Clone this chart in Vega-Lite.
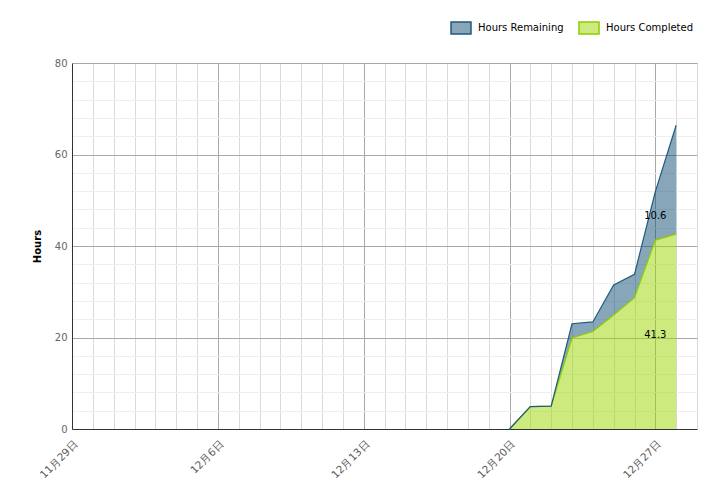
{
  "$schema": "https://vega.github.io/schema/vega-lite/v6.json",
  "autosize": {"type": "none"},
  "width": 625,
  "height": 366,
  "padding": {"left": 72, "top": 63, "right": 23, "bottom": 75},
  "config": {"font": "DejaVu Sans", "view": {"stroke": null}},
  "data": {"values": [
    {"date": "2023-12-20", "series": "Hours Completed", "hours": 0},
    {"date": "2023-12-21", "series": "Hours Completed", "hours": 4.9},
    {"date": "2023-12-22", "series": "Hours Completed", "hours": 5.0},
    {"date": "2023-12-23", "series": "Hours Completed", "hours": 19.9},
    {"date": "2023-12-24", "series": "Hours Completed", "hours": 21.3},
    {"date": "2023-12-25", "series": "Hours Completed", "hours": 24.9},
    {"date": "2023-12-26", "series": "Hours Completed", "hours": 28.7},
    {"date": "2023-12-27", "series": "Hours Completed", "hours": 41.3},
    {"date": "2023-12-28", "series": "Hours Completed", "hours": 42.6},
    {"date": "2023-12-20", "series": "Hours Remaining", "hours": 0},
    {"date": "2023-12-21", "series": "Hours Remaining", "hours": 0},
    {"date": "2023-12-22", "series": "Hours Remaining", "hours": 0},
    {"date": "2023-12-23", "series": "Hours Remaining", "hours": 3.1},
    {"date": "2023-12-24", "series": "Hours Remaining", "hours": 2.1},
    {"date": "2023-12-25", "series": "Hours Remaining", "hours": 6.6},
    {"date": "2023-12-26", "series": "Hours Remaining", "hours": 5.1},
    {"date": "2023-12-27", "series": "Hours Remaining", "hours": 10.6},
    {"date": "2023-12-28", "series": "Hours Remaining", "hours": 23.8}
  ]},
  "transform": [
    {"stack": "hours", "groupby": ["date"], "sort": [{"field": "series", "order": "ascending"}], "as": ["y0", "y1"]},
    {"calculate": "(datum.y0 + datum.y1) / 2", "as": "ymid"}
  ],
  "encoding": {
    "x": {
      "field": "date", "type": "temporal",
      "scale": {"type": "utc", "domain": [{"year": 2023, "month": 11, "date": 29, "utc": true}, {"year": 2023, "month": 12, "date": 29, "utc": true}]},
      "axis": {
        "title": null,
        "tickCount": {"interval": "day", "step": 1},
        "labelExpr": "round((datum.value - utc(2023,10,29)) / 86400000) % 7 === 0 ? utcFormat(datum.value, '%-m月%-d日') : ''",
        "labelAngle": -45,
        "labelAlign": "right",
        "labelBaseline": "middle",
        "labelOverlap": false,
        "labelBound": false,
        "labelFlush": false,
        "labelColor": "#5a5a5a",
        "labelFontSize": 10.5,
        "labelPadding": 13,
        "labelOffset": 4,
        "ticks": false,
        "domainColor": "#333333",
        "gridColor": {"condition": {"test": "round((datum.value - utc(2023,10,29)) / 86400000) % 7 === 0", "value": "#a8a8a8"}, "value": "#dadada"}
      }
    }
  },
  "layer": [
    {
      "mark": {"type": "area", "fillOpacity": 0.5},
      "encoding": {
        "y": {"field": "y1", "type": "quantitative", "scale": {"domain": [0, 80], "nice": false},
          "axis": {
            "title": "Hours", "titleFontWeight": "bold", "titleFontSize": 10, "titleColor": "#000000", "titlePadding": 12,
            "values": [0,4,8,12,16,20,24,28,32,36,40,44,48,52,56,60,64,68,72,76,80],
            "labelExpr": "datum.value % 20 === 0 ? datum.label : ''",
            "labelColor": "#666666", "labelFontSize": 10, "labelPadding": 5,
            "ticks": false, "domainColor": "#333333",
            "gridColor": {"condition": {"test": "datum.value % 20 === 0", "value": "#a8a8a8"}, "value": "#eeeeee"}
          }
        },
        "y2": {"field": "y0"},
        "fill": {
          "field": "series", "type": "nominal",
          "scale": {"domain": ["Hours Remaining", "Hours Completed"], "range": ["#0f4d75", "#9bd600"]},
          "legend": {
            "orient": "none", "legendX": 378, "legendY": -46, "direction": "horizontal", "title": null,
            "symbolType": "M-1,-0.6H1V0.6H-1Z", "symbolSize": 400, "symbolStrokeWidth": 1.5,
            "labelFontSize": 10, "labelColor": "#000000", "columnPadding": 12, "labelOffset": 6,
            "encode": {"symbols": {"update": {
              "stroke": {"signal": "datum.value === 'Hours Remaining' ? '#1f5a7f' : '#8fcc00'"},
              "opacity": {"value": 1},
              "fillOpacity": {"value": 0.5},
              "strokeOpacity": {"value": 1}
            }}}
          }
        }
      }
    },
    {
      "mark": {"type": "line", "strokeWidth": 1.2},
      "encoding": {
        "y": {"field": "y1", "type": "quantitative",
          "axis": {
            "title": "Hours", "titleFontWeight": "bold", "titleFontSize": 10, "titleColor": "#000000", "titlePadding": 12,
            "values": [0,4,8,12,16,20,24,28,32,36,40,44,48,52,56,60,64,68,72,76,80],
            "labelExpr": "datum.value % 20 === 0 ? datum.label : ''",
            "labelColor": "#666666", "labelFontSize": 10, "labelPadding": 5,
            "ticks": false, "domainColor": "#333333",
            "gridColor": {"condition": {"test": "datum.value % 20 === 0", "value": "#a8a8a8"}, "value": "#eeeeee"}
          }
        },
        "stroke": {"field": "series", "type": "nominal", "scale": {"domain": ["Hours Remaining", "Hours Completed"], "range": ["#1f5a7f", "#8fcc00"]}, "legend": null}
      }
    },
    {
      "transform": [{"filter": "utcdate(datum.date) === 27 && utcmonth(datum.date) === 11"}],
      "mark": {"type": "text", "fontSize": 10, "color": "#000000"},
      "encoding": {
        "y": {"field": "ymid", "type": "quantitative",
          "axis": {
            "title": "Hours", "titleFontWeight": "bold", "titleFontSize": 10, "titleColor": "#000000", "titlePadding": 12,
            "values": [0,4,8,12,16,20,24,28,32,36,40,44,48,52,56,60,64,68,72,76,80],
            "labelExpr": "datum.value % 20 === 0 ? datum.label : ''",
            "labelColor": "#666666", "labelFontSize": 10, "labelPadding": 5,
            "ticks": false, "domainColor": "#333333",
            "gridColor": {"condition": {"test": "datum.value % 20 === 0", "value": "#a8a8a8"}, "value": "#eeeeee"}
          }
        },
        "text": {"field": "hours", "type": "quantitative", "format": ".1f"}
      }
    }
  ]
}
